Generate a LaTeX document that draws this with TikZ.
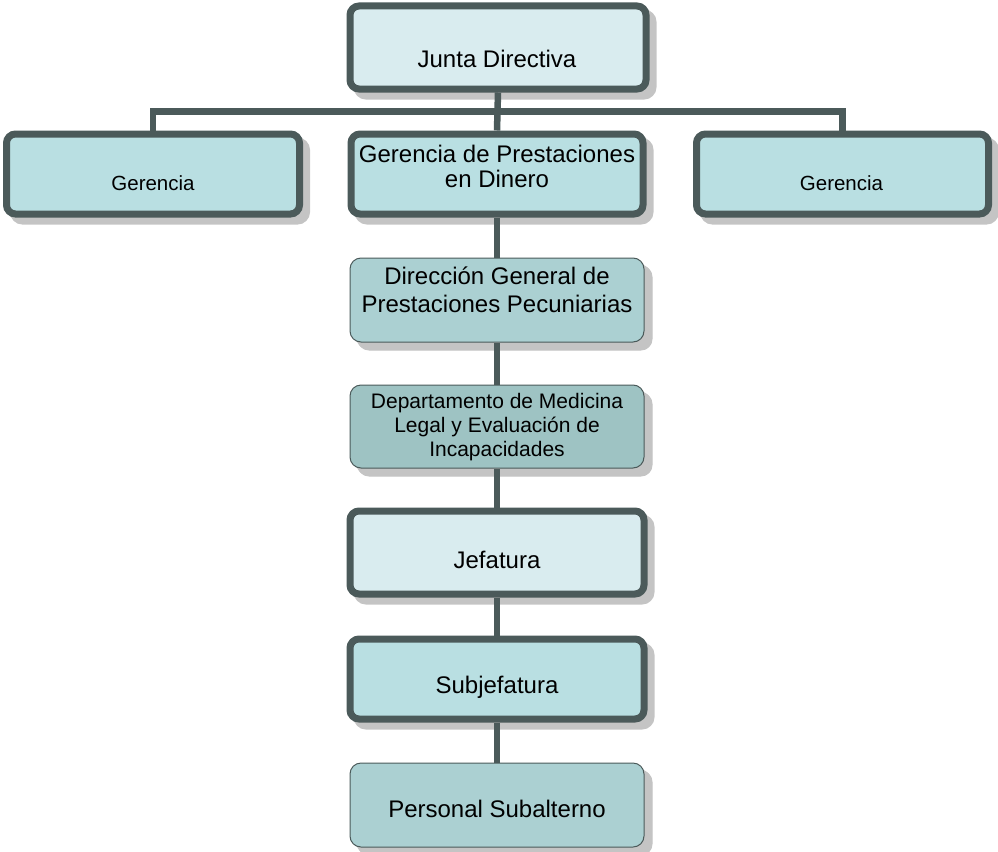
\documentclass[tikz,border=0pt]{standalone}
\usepackage{fontspec}
\setmainfont{Liberation Sans}
\usepackage{tikz}
\usetikzlibrary{calc,positioning,shadows}
\definecolor{borde}{RGB}{75,90,90}
\definecolor{claro}{RGB}{217,236,239}
\definecolor{medio}{RGB}{185,223,226}
\definecolor{verdoso}{RGB}{171,208,210}
\definecolor{oscuro}{RGB}{158,195,195}
\definecolor{sombra}{RGB}{196,196,196}
\tikzset{
  caja/.style={draw=borde, line width=7pt, rounded corners=9pt, minimum width=294pt,
    minimum height=81pt, inner sep=0pt,
    drop shadow={shadow xshift=7pt, shadow yshift=-7pt, fill=sombra, draw=sombra, opacity=1}},
  cajafina/.style={caja, line width=1pt, rounded corners=11pt,
    drop shadow={shadow xshift=8pt, shadow yshift=-8pt, fill=sombra, draw=sombra, opacity=1}},
  texto/.style={font=\fontsize{24}{25}\selectfont, align=center, inner sep=0pt},
  textochico/.style={texto, font=\fontsize{20.5}{24}\selectfont},
  linea/.style={draw=borde, line width=6.5pt}
}
\begin{document}
\begin{tikzpicture}[x=1pt, y=-1pt]
  \useasboundingbox (0,0) rectangle (998,851);

  % cajas
  \node[caja, fill=claro, minimum width=296pt, minimum height=83pt] (junta) at (498,47.5) {};
  \node[caja, fill=medio, minimum width=293pt, minimum height=80pt] (gerIzq) at (153,174) {};
  \node[caja, fill=medio, minimum width=292pt, minimum height=80pt] (gerPrest) at (497,174) {};
  \node[caja, fill=medio, minimum width=292pt, minimum height=80pt] (gerDer) at (842.5,174) {};
  \node[cajafina, fill=verdoso, minimum height=84pt] (direccion) at (497,300) {};
  \node[cajafina, fill=oscuro, minimum height=83pt] (depto) at (497,426.5) {};
  \node[caja, fill=claro, minimum height=83pt] (jefatura) at (497,552.5) {};
  \node[caja, fill=medio, minimum height=80pt] (subjefatura) at (497,679) {};
  \node[cajafina, fill=verdoso, minimum height=84pt] (personal) at (497,805) {};

  % conectores
  \coordinate (bus) at (497,111.5);
  \draw[linea] (gerIzq.north) |- (bus) -| (gerDer.north);
  \draw[linea] (junta.south) -- (gerPrest.north);
  \draw[linea] (gerPrest.south) -- (direccion.north);
  \draw[linea] (direccion.south) -- (depto.north);
  \draw[linea] (depto.south) -- (jefatura.north);
  \draw[linea] (jefatura.south) -- (subjefatura.north);
  \draw[linea] (subjefatura.south) -- (personal.north);

  % textos
  \node[texto, anchor=base] (juntaT) at (497,67) {Junta Directiva};
  \node[textochico, anchor=base] (gerIzqT) at (153,190) {Gerencia};
  \node[texto] (gerPrestT) at (497,166.5) {Gerencia de Prestaciones\\en Dinero};
  \node[textochico, anchor=base] (gerDerT) at (841.5,190) {Gerencia};
  \node[texto, font=\fontsize{24}{28}\selectfont] (direccionT) at (497,290) {Dirección General de\\Prestaciones Pecuniarias};
  \node[texto, font=\fontsize{21}{24}\selectfont] (deptoT) at (497,427) {Departamento de Medicina\\Legal y Evaluación de\\Incapacidades};
  \node[texto, anchor=base] (jefaturaT) at (497,568) {Jefatura};
  \node[texto, anchor=base] (subjefaturaT) at (497,693) {Subjefatura};
  \node[texto, anchor=base] (personalT) at (497,817) {Personal Subalterno};
\end{tikzpicture}
\end{document}
